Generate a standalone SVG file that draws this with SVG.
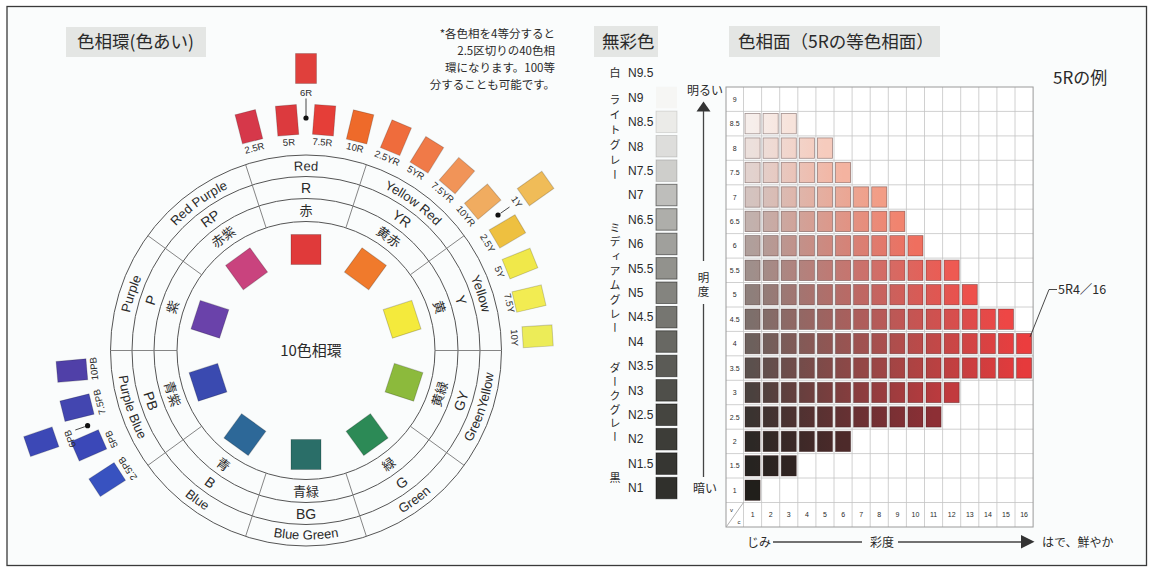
<svg xmlns="http://www.w3.org/2000/svg" width="1150" height="569" viewBox="0 0 1150 569">
<style>
.jp{font-family:"Noto Sans CJK JP","Liberation Sans",sans-serif;fill:#2a2a2a}
.en{font-family:"Liberation Sans","Noto Sans CJK JP",sans-serif;fill:#2a2a2a}
.title{font-size:17.5px}
.ring{fill:none;stroke:#555;stroke-width:1}
.div{stroke:#777;stroke-width:.9}
.ol{font-size:13px}
.ml{font-size:14px}
.il{font-size:13px}
.sl{font-size:9.5px}
.sw{stroke:rgba(0,0,0,.18);stroke-width:1}
.sq{stroke:rgba(0,0,0,.2);stroke-width:1}
.nl{font-size:12px}
.ns{stroke:rgba(0,0,0,.5);stroke-width:.9}
.vk{font-size:11px;writing-mode:vertical-rl}
.grid{fill:none;stroke:#c4c4c4;stroke-width:.8}
.chip rect{stroke:rgba(50,25,25,.45);stroke-width:.8}
.ax{font-size:12px}
.tick{font-size:7px;text-anchor:middle}
</style>
<defs>
<path id="pR" d="M216,194.6 A180,180 0 0 1 396,194.6"/>
<path id="pYR" d="M324.8,171.5 A180,180 0 0 1 470.4,277.3"/>
<path id="pY" d="M426.4,216.7 A180,180 0 0 1 482.1,387.9"/>
<path id="pP" d="M129.9,387.9 A180,180 0 0 1 185.6,216.7"/>
<path id="pRP" d="M141.6,277.3 A180,180 0 0 1 287.2,171.5"/>
<path id="pGY" d="M432.5,490.9 A189,189 0 0 0 490.9,311.2"/>
<path id="pG" d="M325.8,538.5 A189,189 0 0 0 478.7,427.4"/>
<path id="pBG" d="M211.5,514.2 A189,189 0 0 0 400.5,514.2"/>
<path id="pB" d="M133.3,427.4 A189,189 0 0 0 286.2,538.5"/>
<path id="pPB" d="M121.1,311.2 A189,189 0 0 0 179.5,490.9"/>
<linearGradient id="g85" gradientUnits="userSpaceOnUse" x1="752.5" y1="0" x2="788.8" y2="0"><stop offset="0" stop-color="#f6eeeb"/><stop offset="1" stop-color="#f7e3db"/></linearGradient>
<linearGradient id="g80" gradientUnits="userSpaceOnUse" x1="752.5" y1="0" x2="825" y2="0"><stop offset="0" stop-color="#ece0dc"/><stop offset="1" stop-color="#f6cbbd"/></linearGradient>
<linearGradient id="g75" gradientUnits="userSpaceOnUse" x1="752.5" y1="0" x2="843" y2="0"><stop offset="0" stop-color="#e2d2ce"/><stop offset="1" stop-color="#f4b3a0"/></linearGradient>
<linearGradient id="g70" gradientUnits="userSpaceOnUse" x1="752.5" y1="0" x2="879.3" y2="0"><stop offset="0" stop-color="#d4c3bf"/><stop offset="1" stop-color="#f29d86"/></linearGradient>
<linearGradient id="g65" gradientUnits="userSpaceOnUse" x1="752.5" y1="0" x2="897.4" y2="0"><stop offset="0" stop-color="#c2b1ad"/><stop offset="1" stop-color="#f1846f"/></linearGradient>
<linearGradient id="g60" gradientUnits="userSpaceOnUse" x1="752.5" y1="0" x2="915.5" y2="0"><stop offset="0" stop-color="#b09f9b"/><stop offset="1" stop-color="#ef6f5f"/></linearGradient>
<linearGradient id="g55" gradientUnits="userSpaceOnUse" x1="752.5" y1="0" x2="951.7" y2="0"><stop offset="0" stop-color="#9f8f8b"/><stop offset="1" stop-color="#ee5a52"/></linearGradient>
<linearGradient id="g50" gradientUnits="userSpaceOnUse" x1="752.5" y1="0" x2="969.8" y2="0"><stop offset="0" stop-color="#8e7f7b"/><stop offset="1" stop-color="#ee504b"/></linearGradient>
<linearGradient id="g45" gradientUnits="userSpaceOnUse" x1="752.5" y1="0" x2="1006" y2="0"><stop offset="0" stop-color="#7d6f6b"/><stop offset="1" stop-color="#ee4645"/></linearGradient>
<linearGradient id="g40" gradientUnits="userSpaceOnUse" x1="752.5" y1="0" x2="1024" y2="0"><stop offset="0" stop-color="#6c605c"/><stop offset="1" stop-color="#eb3d3e"/></linearGradient>
<linearGradient id="g35" gradientUnits="userSpaceOnUse" x1="752.5" y1="0" x2="1024" y2="0"><stop offset="0" stop-color="#5b504d"/><stop offset="1" stop-color="#e63a3c"/></linearGradient>
<linearGradient id="g30" gradientUnits="userSpaceOnUse" x1="752.5" y1="0" x2="951.7" y2="0"><stop offset="0" stop-color="#4a413e"/><stop offset="1" stop-color="#c23a3e"/></linearGradient>
<linearGradient id="g25" gradientUnits="userSpaceOnUse" x1="752.5" y1="0" x2="933.6" y2="0"><stop offset="0" stop-color="#3a3330"/><stop offset="1" stop-color="#8d2f35"/></linearGradient>
<linearGradient id="g20" gradientUnits="userSpaceOnUse" x1="752.5" y1="0" x2="843" y2="0"><stop offset="0" stop-color="#2c2825"/><stop offset="1" stop-color="#4d2a2a"/></linearGradient>
<linearGradient id="g15" gradientUnits="userSpaceOnUse" x1="752.5" y1="0" x2="788.8" y2="0"><stop offset="0" stop-color="#262320"/><stop offset="1" stop-color="#302422"/></linearGradient>
</defs>

<rect x="0" y="0" width="1150" height="569" fill="#ffffff"/>
<rect id="frame" x="7" y="6.5" width="1139.5" height="559" fill="#fafcfc" stroke="#3a3a3a" stroke-width="1.3"/>

<!-- titles -->
<g id="titles">
<rect x="66" y="27" width="140" height="30" fill="#e4e6e4"/>
<text class="jp title" x="77" y="48">色相環(色あい)</text>
<rect x="594" y="26" width="64" height="31" fill="#e4e6e4"/>
<text class="jp title" x="602" y="48">無彩色</text>
<rect x="729" y="26" width="211" height="31" fill="#e4e6e4"/>
<text class="jp title" x="738" y="48">色相面（5Rの等色相面）</text>
<text class="jp" font-size="17" x="1053" y="83.5">5Rの例</text>
<g class="jp" font-size="11.5" text-anchor="end">
<text x="555" y="37.5">*各色相を4等分すると</text>
<text x="555" y="54.5">2.5区切りの40色相</text>
<text x="555" y="71.5">環になります。100等</text>
<text x="555" y="88.5">分することも可能です。</text>
</g>
</g>

<!-- hue circle rings -->
<g id="hue-ring">
<circle class="ring" cx="306" cy="350.5" r="195.5" fill="#ffffff"/>
<circle class="ring" cx="306" cy="350.5" r="174"/>
<circle class="ring" cx="306" cy="350.5" r="152"/>
<circle class="ring" cx="306" cy="350.5" r="129"/>
<g class="div">
<line x1="435" y1="350.5" x2="501.5" y2="350.5"/>
<line x1="410.4" y1="274.7" x2="464.2" y2="235.6"/>
<line x1="345.9" y1="227.8" x2="366.4" y2="164.6"/>
<line x1="266.1" y1="227.8" x2="245.6" y2="164.6"/>
<line x1="201.6" y1="274.7" x2="147.8" y2="235.6"/>
<line x1="177" y1="350.5" x2="110.5" y2="350.5"/>
<line x1="201.6" y1="426.3" x2="147.8" y2="465.4"/>
<line x1="266.1" y1="473.2" x2="245.6" y2="536.4"/>
<line x1="345.9" y1="473.2" x2="366.4" y2="536.4"/>
<line x1="410.4" y1="426.3" x2="464.2" y2="465.4"/>
</g>
<g class="en ol">
<text><textPath href="#pR" startOffset="50%" text-anchor="middle">Red</textPath></text>
<text><textPath href="#pYR" startOffset="50%" text-anchor="middle">Yellow Red</textPath></text>
<text><textPath href="#pY" startOffset="50%" text-anchor="middle">Yellow</textPath></text>
<text><textPath href="#pGY" startOffset="50%" text-anchor="middle">GreenYellow</textPath></text>
<text><textPath href="#pG" startOffset="50%" text-anchor="middle">Green</textPath></text>
<text><textPath href="#pBG" startOffset="50%" text-anchor="middle">Blue Green</textPath></text>
<text><textPath href="#pB" startOffset="50%" text-anchor="middle">Blue</textPath></text>
<text><textPath href="#pPB" startOffset="50%" text-anchor="middle">Purple Blue</textPath></text>
<text><textPath href="#pP" startOffset="50%" text-anchor="middle">Purple</textPath></text>
<text><textPath href="#pRP" startOffset="50%" text-anchor="middle">Red Purple</textPath></text>
</g>
<g class="en ml" text-anchor="middle">
<text transform="translate(306,187.5)" y="5">R</text>
<text transform="translate(401.8,218.6) rotate(36)" y="5">YR</text>
<text transform="translate(461,300.1) rotate(72)" y="5">Y</text>
<text transform="translate(461,400.9) rotate(-72)" y="5">GY</text>
<text transform="translate(401.8,482.4) rotate(-36)" y="5">G</text>
<text transform="translate(306,513.5)" y="5">BG</text>
<text transform="translate(210.2,482.4) rotate(36)" y="5">B</text>
<text transform="translate(151,400.9) rotate(72)" y="5">PB</text>
<text transform="translate(151,300.1) rotate(-72)" y="5">P</text>
<text transform="translate(210.2,218.6) rotate(-36)" y="5">RP</text>
</g>
<g class="jp il" text-anchor="middle">
<text transform="translate(306,210)" y="5">赤</text>
<text transform="translate(388.6,236.8) rotate(36)" y="5">黄赤</text>
<text transform="translate(439.6,307.1) rotate(72)" y="5">黄</text>
<text transform="translate(439.6,393.9) rotate(-72)" y="5">黄緑</text>
<text transform="translate(388.6,464.2) rotate(-36)" y="5">緑</text>
<text transform="translate(306,491)" y="5">青緑</text>
<text transform="translate(223.4,464.2) rotate(36)" y="5">青</text>
<text transform="translate(172.4,393.9) rotate(72)" y="5">青紫</text>
<text transform="translate(172.4,307.1) rotate(-72)" y="5">紫</text>
<text transform="translate(223.4,236.8) rotate(-36)" y="5">赤紫</text>
</g>
<text class="jp" font-size="15" x="311" y="356" text-anchor="middle">10色相環</text>
</g>

<!-- 10 basic hue squares -->
<g id="hue-squares" class="sq">
<rect x="-15" y="-15" width="30" height="30" fill="#e03a3a" transform="translate(306,249.5)"/>
<rect x="-15" y="-15" width="30" height="30" fill="#f07a2c" transform="translate(365.4,268.8) rotate(36)"/>
<rect x="-15" y="-15" width="30" height="30" fill="#f4ea3c" transform="translate(402.1,319.3) rotate(72)"/>
<rect x="-15" y="-15" width="30" height="30" fill="#8cba3c" transform="translate(404,382.3) rotate(-72)"/>
<rect x="-15" y="-15" width="30" height="30" fill="#2c8a56" transform="translate(367.1,434.6) rotate(-36)"/>
<rect x="-15" y="-15" width="30" height="30" fill="#2a6e68" transform="translate(306,454.5)"/>
<rect x="-15" y="-15" width="30" height="30" fill="#2d6898" transform="translate(244.9,434.6) rotate(36)"/>
<rect x="-15" y="-15" width="30" height="30" fill="#3a4ab0" transform="translate(208,382.3) rotate(72)"/>
<rect x="-15" y="-15" width="30" height="30" fill="#6a42aa" transform="translate(209.9,319.3) rotate(-72)"/>
<rect x="-15" y="-15" width="30" height="30" fill="#c9437e" transform="translate(246.6,268.8) rotate(-36)"/>
</g>

<!-- 40-hue swatches -->
<g id="hue-swatches" class="sw">
<rect x="-10.5" y="-15" width="21" height="30" fill="#e0403c" transform="translate(306,68.5)"/>
<rect x="-10.5" y="-15" width="21" height="30" fill="#d6384a" transform="translate(248.9,126.7) rotate(-14.3)"/>
<rect x="-10.5" y="-15" width="21" height="30" fill="#dc3a3e" transform="translate(287.1,120.3) rotate(-4.7)"/>
<rect x="-10.5" y="-15" width="21" height="30" fill="#e53e38" transform="translate(324.1,120.2) rotate(4.5)"/>
<rect x="-10.5" y="-15" width="21" height="30" fill="#ee6a2a" transform="translate(360.1,126.9) rotate(13.6)"/>
<rect x="-10.5" y="-15" width="21" height="30" fill="#ef6c3c" transform="translate(395.9,137.7) rotate(22.9)"/>
<rect x="-10.5" y="-15" width="21" height="30" fill="#f07a48" transform="translate(426.9,154.8) rotate(31.7)"/>
<rect x="-10.5" y="-15" width="21" height="30" fill="#f19458" transform="translate(456.9,175.6) rotate(40.8)"/>
<rect x="-10.5" y="-15" width="21" height="30" fill="#f0ac60" transform="translate(482.7,201.7) rotate(49.9)"/>
<rect x="-10.5" y="-15" width="21" height="30" fill="#f0bc58" transform="translate(535.6,188.5) rotate(54.8)"/>
<rect x="-10.5" y="-15" width="21" height="30" fill="#eec040" transform="translate(507.4,231.4) rotate(59.4)"/>
<rect x="-10.5" y="-15" width="21" height="30" fill="#f0e84a" transform="translate(520,263.6) rotate(67.9)"/>
<rect x="-10.5" y="-15" width="21" height="30" fill="#f2ec52" transform="translate(529,298.6) rotate(76.9)"/>
<rect x="-10.5" y="-15" width="21" height="30" fill="#ecec58" transform="translate(537.6,336.3) rotate(86.5)"/>
<rect x="-10.5" y="-15" width="21" height="30" fill="#5040a8" transform="translate(71.9,370.6) rotate(-94.9)"/>
<rect x="-10.5" y="-15" width="21" height="30" fill="#4346b0" transform="translate(77,407.6) rotate(-104)"/>
<rect x="-10.5" y="-15" width="21" height="30" fill="#3c48b6" transform="translate(41.3,441.7) rotate(-109)"/>
<rect x="-10.5" y="-15" width="21" height="30" fill="#3b48b8" transform="translate(88.8,445.4) rotate(-113.6)"/>
<rect x="-10.5" y="-15" width="21" height="30" fill="#3852c0" transform="translate(107.2,479.6) rotate(-123)"/>
</g>
<g id="swatch-labels" class="en sl" text-anchor="middle">
<text transform="translate(306,93)" y="3.4">6R</text>
<text transform="translate(254.4,148) rotate(-14.3)" y="3.4">2.5R</text>
<text transform="translate(288.9,142.2) rotate(-4.7)" y="3.4">5R</text>
<text transform="translate(322.4,142.1) rotate(4.5)" y="3.4">7.5R</text>
<text transform="translate(355.1,147.4) rotate(13.6)" y="3.4">10R</text>
<text transform="translate(387.3,158) rotate(22.9)" y="3.4">2.5YR</text>
<text transform="translate(415.8,172.7) rotate(31.7)" y="3.4">5YR</text>
<text transform="translate(442.6,192.3) rotate(40.8)" y="3.4">7.5YR</text>
<text transform="translate(465.9,215.9) rotate(49.9)" y="3.4">10YR</text>
<text transform="translate(516.8,201.8) rotate(54.8)" y="3.4">1Y</text>
<text transform="translate(487.6,243.1) rotate(59.4)" y="3.4">2.5Y</text>
<text transform="translate(499.6,271.9) rotate(67.9)" y="3.4">5Y</text>
<text transform="translate(509.6,303.1) rotate(76.9)" y="3.4">7.5Y</text>
<text transform="translate(514.6,337.8) rotate(86.5)" y="3.4">10Y</text>
<text transform="translate(93.8,368.7) rotate(-94.9)" y="3.4">10PB</text>
<text transform="translate(99.3,402) rotate(-104)" y="3.4">7.5PB</text>
<text transform="translate(70,438.8) rotate(-110.5)" y="3.4">6PB</text>
<text transform="translate(111.3,439.2) rotate(-113.6)" y="3.4">5PB</text>
<text transform="translate(127.5,468.6) rotate(-123)" y="3.4">2.5PB</text>
</g>

<!-- achromatic -->
<g id="achromatic">
<g class="en nl">
<text x="628" y="77.3">N9.5</text>
<text x="628" y="101.7">N9</text>
<text x="628" y="126.1">N8.5</text>
<text x="628" y="150.5">N8</text>
<text x="628" y="174.9">N7.5</text>
<text x="628" y="199.3">N7</text>
<text x="628" y="223.8">N6.5</text>
<text x="628" y="248.2">N6</text>
<text x="628" y="272.6">N5.5</text>
<text x="628" y="297">N5</text>
<text x="628" y="321.4">N4.5</text>
<text x="628" y="345.8">N4</text>
<text x="628" y="370.2">N3.5</text>
<text x="628" y="394.6">N3</text>
<text x="628" y="419">N2.5</text>
<text x="628" y="443.4">N2</text>
<text x="628" y="467.9">N1.5</text>
<text x="628" y="492.3">N1</text>
</g>
<rect x="656" y="86.7" width="21" height="21.5" fill="#f6f6f4"/>
<g class="ns">
<rect x="656" y="111.1" width="21" height="21.5" fill="#ebebe8" stroke-opacity=".25"/>
<rect x="656" y="135.5" width="21" height="21.5" fill="#dddddb" stroke-opacity=".3"/>
<rect x="656" y="159.9" width="21" height="21.5" fill="#cececb" stroke-opacity=".35"/>
<rect x="656" y="184.3" width="21" height="21.5" fill="#bebebb"/>
<rect x="656" y="208.7" width="21" height="21.5" fill="#aeaeaa"/>
<rect x="656" y="233.2" width="21" height="21.5" fill="#a0a09c"/>
<rect x="656" y="257.6" width="21" height="21.5" fill="#92928d"/>
<rect x="656" y="282" width="21" height="21.5" fill="#84847f"/>
<rect x="656" y="306.4" width="21" height="21.5" fill="#767671"/>
<rect x="656" y="330.8" width="21" height="21.5" fill="#686863"/>
<rect x="656" y="355.2" width="21" height="21.5" fill="#5b5b56"/>
<rect x="656" y="379.6" width="21" height="21.5" fill="#4f4f4a"/>
<rect x="656" y="404" width="21" height="21.5" fill="#454540"/>
<rect x="656" y="428.4" width="21" height="21.5" fill="#3d3d38"/>
<rect x="656" y="452.9" width="21" height="21.5" fill="#363632"/>
<rect x="656" y="477.3" width="21" height="21.5" fill="#30302c"/>
</g>
<g class="jp">
<text x="615" y="77.2" font-size="11" text-anchor="middle">白</text>
<text class="vk" x="615" y="94.5" letter-spacing="4">ライトグレー</text>
<text class="vk" x="615" y="222.5" letter-spacing="3.3">ミディアムグレー</text>
<text class="vk" x="615" y="362.5" letter-spacing="2.8">ダークグレー</text>
<text x="615" y="482.2" font-size="11" text-anchor="middle">黒</text>
</g>
</g>

<!-- hue page chart -->
<g id="chart">
<rect x="726" y="87" width="307.1" height="440" fill="#ffffff"/>
<g class="chip">
<g fill="url(#g85)" transform="translate(0,113.4)"><rect x="745" width="15.1" height="20.4"/><rect x="763.1" width="15.1" height="20.4"/><rect x="781.2" width="15.1" height="20.4"/></g>
<g fill="url(#g80)" transform="translate(0,137.9)"><rect x="745" width="15.1" height="20.4"/><rect x="763.1" width="15.1" height="20.4"/><rect x="781.2" width="15.1" height="20.4"/><rect x="799.3" width="15.1" height="20.4"/><rect x="817.4" width="15.1" height="20.4"/></g>
<g fill="url(#g75)" transform="translate(0,162.3)"><rect x="745" width="15.1" height="20.4"/><rect x="763.1" width="15.1" height="20.4"/><rect x="781.2" width="15.1" height="20.4"/><rect x="799.3" width="15.1" height="20.4"/><rect x="817.4" width="15.1" height="20.4"/><rect x="835.5" width="15.1" height="20.4"/></g>
<g fill="url(#g70)" transform="translate(0,186.8)"><rect x="745" width="15.1" height="20.4"/><rect x="763.1" width="15.1" height="20.4"/><rect x="781.2" width="15.1" height="20.4"/><rect x="799.3" width="15.1" height="20.4"/><rect x="817.4" width="15.1" height="20.4"/><rect x="835.5" width="15.1" height="20.4"/><rect x="853.6" width="15.1" height="20.4"/><rect x="871.7" width="15.1" height="20.4"/></g>
<g fill="url(#g65)" transform="translate(0,211.2)"><rect x="745" width="15.1" height="20.4"/><rect x="763.1" width="15.1" height="20.4"/><rect x="781.2" width="15.1" height="20.4"/><rect x="799.3" width="15.1" height="20.4"/><rect x="817.4" width="15.1" height="20.4"/><rect x="835.5" width="15.1" height="20.4"/><rect x="853.6" width="15.1" height="20.4"/><rect x="871.7" width="15.1" height="20.4"/><rect x="889.8" width="15.1" height="20.4"/></g>
<g fill="url(#g60)" transform="translate(0,235.6)"><rect x="745" width="15.1" height="20.4"/><rect x="763.1" width="15.1" height="20.4"/><rect x="781.2" width="15.1" height="20.4"/><rect x="799.3" width="15.1" height="20.4"/><rect x="817.4" width="15.1" height="20.4"/><rect x="835.5" width="15.1" height="20.4"/><rect x="853.6" width="15.1" height="20.4"/><rect x="871.7" width="15.1" height="20.4"/><rect x="889.8" width="15.1" height="20.4"/><rect x="907.9" width="15.1" height="20.4"/></g>
<g fill="url(#g55)" transform="translate(0,260.1)"><rect x="745" width="15.1" height="20.4"/><rect x="763.1" width="15.1" height="20.4"/><rect x="781.2" width="15.1" height="20.4"/><rect x="799.3" width="15.1" height="20.4"/><rect x="817.4" width="15.1" height="20.4"/><rect x="835.5" width="15.1" height="20.4"/><rect x="853.6" width="15.1" height="20.4"/><rect x="871.7" width="15.1" height="20.4"/><rect x="889.8" width="15.1" height="20.4"/><rect x="907.9" width="15.1" height="20.4"/><rect x="926" width="15.1" height="20.4"/><rect x="944.1" width="15.1" height="20.4"/></g>
<g fill="url(#g50)" transform="translate(0,284.5)"><rect x="745" width="15.1" height="20.4"/><rect x="763.1" width="15.1" height="20.4"/><rect x="781.2" width="15.1" height="20.4"/><rect x="799.3" width="15.1" height="20.4"/><rect x="817.4" width="15.1" height="20.4"/><rect x="835.5" width="15.1" height="20.4"/><rect x="853.6" width="15.1" height="20.4"/><rect x="871.7" width="15.1" height="20.4"/><rect x="889.8" width="15.1" height="20.4"/><rect x="907.9" width="15.1" height="20.4"/><rect x="926" width="15.1" height="20.4"/><rect x="944.1" width="15.1" height="20.4"/><rect x="962.2" width="15.1" height="20.4"/></g>
<g fill="url(#g45)" transform="translate(0,309)"><rect x="745" width="15.1" height="20.4"/><rect x="763.1" width="15.1" height="20.4"/><rect x="781.2" width="15.1" height="20.4"/><rect x="799.3" width="15.1" height="20.4"/><rect x="817.4" width="15.1" height="20.4"/><rect x="835.5" width="15.1" height="20.4"/><rect x="853.6" width="15.1" height="20.4"/><rect x="871.7" width="15.1" height="20.4"/><rect x="889.8" width="15.1" height="20.4"/><rect x="907.9" width="15.1" height="20.4"/><rect x="926" width="15.1" height="20.4"/><rect x="944.1" width="15.1" height="20.4"/><rect x="962.2" width="15.1" height="20.4"/><rect x="980.3" width="15.1" height="20.4"/><rect x="998.4" width="15.1" height="20.4"/></g>
<g fill="url(#g40)" transform="translate(0,333.4)"><rect x="745" width="15.1" height="20.4"/><rect x="763.1" width="15.1" height="20.4"/><rect x="781.2" width="15.1" height="20.4"/><rect x="799.3" width="15.1" height="20.4"/><rect x="817.4" width="15.1" height="20.4"/><rect x="835.5" width="15.1" height="20.4"/><rect x="853.6" width="15.1" height="20.4"/><rect x="871.7" width="15.1" height="20.4"/><rect x="889.8" width="15.1" height="20.4"/><rect x="907.9" width="15.1" height="20.4"/><rect x="926" width="15.1" height="20.4"/><rect x="944.1" width="15.1" height="20.4"/><rect x="962.2" width="15.1" height="20.4"/><rect x="980.3" width="15.1" height="20.4"/><rect x="998.4" width="15.1" height="20.4"/><rect x="1016.5" width="15.1" height="20.4"/></g>
<g fill="url(#g35)" transform="translate(0,357.8)"><rect x="745" width="15.1" height="20.4"/><rect x="763.1" width="15.1" height="20.4"/><rect x="781.2" width="15.1" height="20.4"/><rect x="799.3" width="15.1" height="20.4"/><rect x="817.4" width="15.1" height="20.4"/><rect x="835.5" width="15.1" height="20.4"/><rect x="853.6" width="15.1" height="20.4"/><rect x="871.7" width="15.1" height="20.4"/><rect x="889.8" width="15.1" height="20.4"/><rect x="907.9" width="15.1" height="20.4"/><rect x="926" width="15.1" height="20.4"/><rect x="944.1" width="15.1" height="20.4"/><rect x="962.2" width="15.1" height="20.4"/><rect x="980.3" width="15.1" height="20.4"/><rect x="998.4" width="15.1" height="20.4"/><rect x="1016.5" width="15.1" height="20.4"/></g>
<g fill="url(#g30)" transform="translate(0,382.3)"><rect x="745" width="15.1" height="20.4"/><rect x="763.1" width="15.1" height="20.4"/><rect x="781.2" width="15.1" height="20.4"/><rect x="799.3" width="15.1" height="20.4"/><rect x="817.4" width="15.1" height="20.4"/><rect x="835.5" width="15.1" height="20.4"/><rect x="853.6" width="15.1" height="20.4"/><rect x="871.7" width="15.1" height="20.4"/><rect x="889.8" width="15.1" height="20.4"/><rect x="907.9" width="15.1" height="20.4"/><rect x="926" width="15.1" height="20.4"/><rect x="944.1" width="15.1" height="20.4"/></g>
<g fill="url(#g25)" transform="translate(0,406.7)"><rect x="745" width="15.1" height="20.4"/><rect x="763.1" width="15.1" height="20.4"/><rect x="781.2" width="15.1" height="20.4"/><rect x="799.3" width="15.1" height="20.4"/><rect x="817.4" width="15.1" height="20.4"/><rect x="835.5" width="15.1" height="20.4"/><rect x="853.6" width="15.1" height="20.4"/><rect x="871.7" width="15.1" height="20.4"/><rect x="889.8" width="15.1" height="20.4"/><rect x="907.9" width="15.1" height="20.4"/><rect x="926" width="15.1" height="20.4"/></g>
<g fill="url(#g20)" transform="translate(0,431.2)"><rect x="745" width="15.1" height="20.4"/><rect x="763.1" width="15.1" height="20.4"/><rect x="781.2" width="15.1" height="20.4"/><rect x="799.3" width="15.1" height="20.4"/><rect x="817.4" width="15.1" height="20.4"/><rect x="835.5" width="15.1" height="20.4"/></g>
<g fill="url(#g15)" transform="translate(0,455.6)"><rect x="745" width="15.1" height="20.4"/><rect x="763.1" width="15.1" height="20.4"/><rect x="781.2" width="15.1" height="20.4"/></g>
<g fill="#211f1b" transform="translate(0,480)"><rect x="745" width="15.1" height="20.4"/></g>
</g>
<path class="grid" d="M743.5,87V527M761.6,87V527M779.7,87V527M797.8,87V527M815.9,87V527M834,87V527M852.1,87V527M870.2,87V527M888.3,87V527M906.4,87V527M924.5,87V527M942.6,87V527M960.7,87V527M978.8,87V527M996.9,87V527M1015,87V527
M726,111.4H1033.1M726,135.9H1033.1M726,160.3H1033.1M726,184.8H1033.1M726,209.2H1033.1M726,233.6H1033.1M726,258.1H1033.1M726,282.5H1033.1M726,307H1033.1M726,331.4H1033.1M726,355.8H1033.1M726,380.3H1033.1M726,404.7H1033.1M726,429.2H1033.1M726,453.6H1033.1M726,478H1033.1M726,502.5H1033.1"/>
<rect x="726" y="87" width="307.1" height="440" fill="none" stroke="#9a9a9a" stroke-width="1"/>
<line x1="726.5" y1="526.5" x2="743.5" y2="502.5" stroke="#9a9a9a" stroke-width=".8"/>
<g class="en tick">
<text x="734.7" y="101.7">9</text>
<text x="734.7" y="126.1">8.5</text>
<text x="734.7" y="150.6">8</text>
<text x="734.7" y="175">7.5</text>
<text x="734.7" y="199.5">7</text>
<text x="734.7" y="223.9">6.5</text>
<text x="734.7" y="248.4">6</text>
<text x="734.7" y="272.8">5.5</text>
<text x="734.7" y="297.2">5</text>
<text x="734.7" y="321.7">4.5</text>
<text x="734.7" y="346.1">4</text>
<text x="734.7" y="370.6">3.5</text>
<text x="734.7" y="395">3</text>
<text x="734.7" y="419.5">2.5</text>
<text x="734.7" y="443.9">2</text>
<text x="734.7" y="468.3">1.5</text>
<text x="734.7" y="492.8">1</text>
<text x="731.5" y="512" font-size="6">v</text>
<text x="739" y="523.5" font-size="6">c</text>
<text x="752.6" y="517.2">1</text>
<text x="770.7" y="517.2">2</text>
<text x="788.8" y="517.2">3</text>
<text x="806.9" y="517.2">4</text>
<text x="825" y="517.2">5</text>
<text x="843.1" y="517.2">6</text>
<text x="861.2" y="517.2">7</text>
<text x="879.3" y="517.2">8</text>
<text x="897.4" y="517.2">9</text>
<text x="915.5" y="517.2">10</text>
<text x="933.6" y="517.2">11</text>
<text x="951.7" y="517.2">12</text>
<text x="969.8" y="517.2">13</text>
<text x="987.9" y="517.2">14</text>
<text x="1006" y="517.2">15</text>
<text x="1024.1" y="517.2">16</text>
</g>
</g>

<!-- axes -->
<g id="axes">
<g class="jp ax" text-anchor="middle">
<text x="705" y="94.5">明るい</text>
<text x="705" y="492.5">暗い</text>
</g>
<text class="jp" font-size="11.5" x="703.5" y="272" letter-spacing="2.5" style="writing-mode:vertical-rl">明度</text>
<polygon points="703.5,101.5 696.5,111.5 710.5,111.5" fill="#333"/>
<line x1="703.5" y1="111" x2="703.5" y2="261" stroke="#444" stroke-width="1.3"/>
<line x1="703.5" y1="304" x2="703.5" y2="477" stroke="#444" stroke-width="1.3"/>
<g class="jp ax">
<text x="747" y="546.5">じみ</text>
<text x="870" y="546.5">彩度</text>
<text x="1042" y="546.5">はで、鮮やか</text>
</g>
<line x1="773" y1="542" x2="862" y2="542" stroke="#444" stroke-width="1.3"/>
<line x1="898" y1="542" x2="1022" y2="542" stroke="#444" stroke-width="1.3"/>
<polygon points="1034.5,541.8 1021,535 1021,548.6" fill="#333"/>
<text class="jp" font-size="12.5" x="1058" y="293.5">5R4／16</text>
</g>

<!-- connectors -->
<g id="connectors" stroke="#333" stroke-width=".9" fill="none">
<line x1="306" y1="98.5" x2="306" y2="116"/>
<line x1="500.5" y1="213.3" x2="509.5" y2="207"/>
<line x1="84.8" y1="426.7" x2="75.3" y2="430"/>
<polyline points="1057,289.5 1049,289.5 1030,337"/>
</g>
<g id="dots" fill="#111">
<circle cx="306" cy="118" r="2.6"/>
<circle cx="498" cy="215" r="2.6"/>
<circle cx="87.6" cy="425.7" r="2.6"/>
</g>
</svg>
